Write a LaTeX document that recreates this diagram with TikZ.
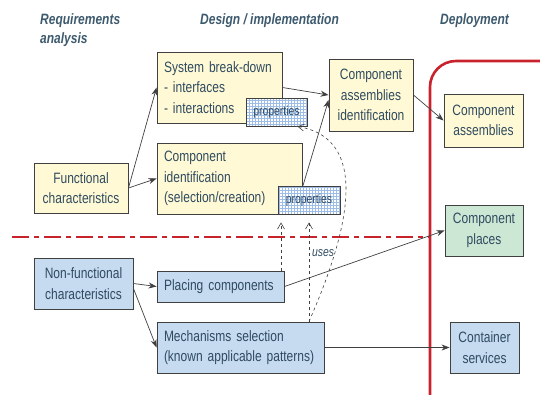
\documentclass[tikz,border=0pt]{standalone}
\usepackage{fontspec}
\setmainfont{Liberation Sans}[FakeStretch=0.8]
\usetikzlibrary{arrows.meta,patterns}
\definecolor{inkblue}{HTML}{2F4B60}
\definecolor{headblue}{HTML}{3D5A6E}
\definecolor{frame}{HTML}{404040}
\definecolor{funcyellow}{HTML}{FFF9D5}
\definecolor{nfblue}{HTML}{C6DAF0}
\definecolor{placegreen}{HTML}{CDE7D5}
\definecolor{gridblue}{HTML}{9DBCE8}
\definecolor{deployred}{HTML}{C8232C}

\begin{document}
\begin{tikzpicture}
  [
    x=1pt, y=-1pt,
    box/.style={draw=frame, line width=0.9pt, text=inkblue,
      font=\fontsize{15}{20.5}\selectfont, inner sep=5pt},
    func/.style={box, fill=funcyellow},
    nonfunc/.style={box, fill=nfblue},
    place/.style={box, fill=placegreen},
    lbox/.style={align=left, inner xsep=7pt},
    cbox/.style={align=center},
    props/.style={draw=frame, line width=0.9pt, preaction={fill=white},
      pattern=grid, pattern color=gridblue, text=inkblue,
      font=\fontsize{13}{14}\selectfont, minimum width=61pt,
      minimum height=28pt, inner sep=0pt},
    head/.style={text=headblue, font=\fontsize{15}{19}\selectfont\bfseries\itshape,
      align=left, inner sep=0pt, anchor=north west},
    link/.style={draw=frame, line width=0.7pt, -{Stealth[length=8pt,width=6pt]}},
    uses/.style={dashed, draw=frame, line width=0.6pt,
      -{Straight Barb[length=6pt,width=7pt]}, shorten >=8pt}
  ]
  \clip (0,0) rectangle (540,394);
  % phases
  \node [head] (req) at (40,13) {Requirements\\analysis};
  \node [head] (design) at (200,13) {Design / implementation};
  \node [head] (deploy) at (440,13) {Deployment};
  % deployment frame and split line
  \draw [deployred, line width=2.6pt, rounded corners=26pt] (430,61) rectangle (570,420);
  \draw [deployred, line width=2.6pt, dash pattern=on 17pt off 5pt on 5pt off 5pt]
  (12,237) -- (430,237);
  % functional side
  \node [func, cbox, minimum width=94pt, minimum height=50pt] (func) at (81,188)
  {Functional\\characteristics};
  \node [func, lbox, text width=111pt, minimum height=71pt] (sysbd) at (219.5,87.5)
  {System break-down\\- interfaces\\- interactions};
  \node [func, lbox, text width=131pt, minimum height=71pt] (compid) at (229.5,178.5)
  {Component\\identification\\(selection/creation)};
  \node [props] (props1) at (276.5,112) {properties};
  \node [props, minimum width=62pt] (props2) at (309,200) {properties};
  \node [func, cbox, minimum width=84pt, minimum height=72pt] (cai) at (371,95)
  {Component\\assemblies\\identification};
  \node [func, cbox, minimum width=79pt, minimum height=53pt] (ca) at (483.5,120.5)
  {Component\\assemblies};
  % non-functional side
  \node [nonfunc, cbox, minimum width=99pt, minimum height=51pt] (nonfunc) at (83.5,283.5)
  {Non-functional\\characteristics};
  \node [nonfunc, lbox, text width=113pt, minimum height=31pt] (placing) at (220.5,286.5)
  {Placing components};
  \node [nonfunc, lbox, text width=153pt, minimum height=51pt] (mech) at (240.5,347.5)
  {Mechanisms selection\\(known applicable patterns)};
  \node [place, cbox, minimum width=78pt, minimum height=51pt] (cp) at (484,230.5)
  {Component\\places};
  \node [nonfunc, cbox, minimum width=69pt, minimum height=51pt] (cs) at (484.5,347.5)
  {Container\\services};
  % flow edges
  \draw [link] (func.east) -- (sysbd.west);
  \draw [link] (func.east) -- (compid.west);
  \draw [link] (sysbd.east) -- (cai.west);
  \draw [link] ([xshift=-6pt]props2.north) -- ([yshift=-5pt]cai.west);
  \draw [link] (cai.east) -- (ca.west);
  \draw [link] (nonfunc.east) -- (placing.west);
  \draw [link] ([yshift=-5pt]nonfunc.east) -- (mech.west);
  \draw [link] (placing.east) -- (cp.west);
  \draw [link] (mech.east) -- (cs.west);
  % uses edges
  \coordinate (up1) at ([xshift=-28pt]props2.south);
  \draw [uses] (placing.north -| up1) -- (up1);
  \draw [uses] (mech.north -| props2.south) -- (props2.south);
  \draw [uses, shorten >=0pt] (mech.north -| props2.south)
  .. controls +(36,-82) and +(77,13) .. ([xshift=-10pt]props1.south east);
  \node [text=inkblue, font=\fontsize{13}{14}\selectfont\itshape] (usesnote) at (323,253) {uses};
\end{tikzpicture}
\end{document}
